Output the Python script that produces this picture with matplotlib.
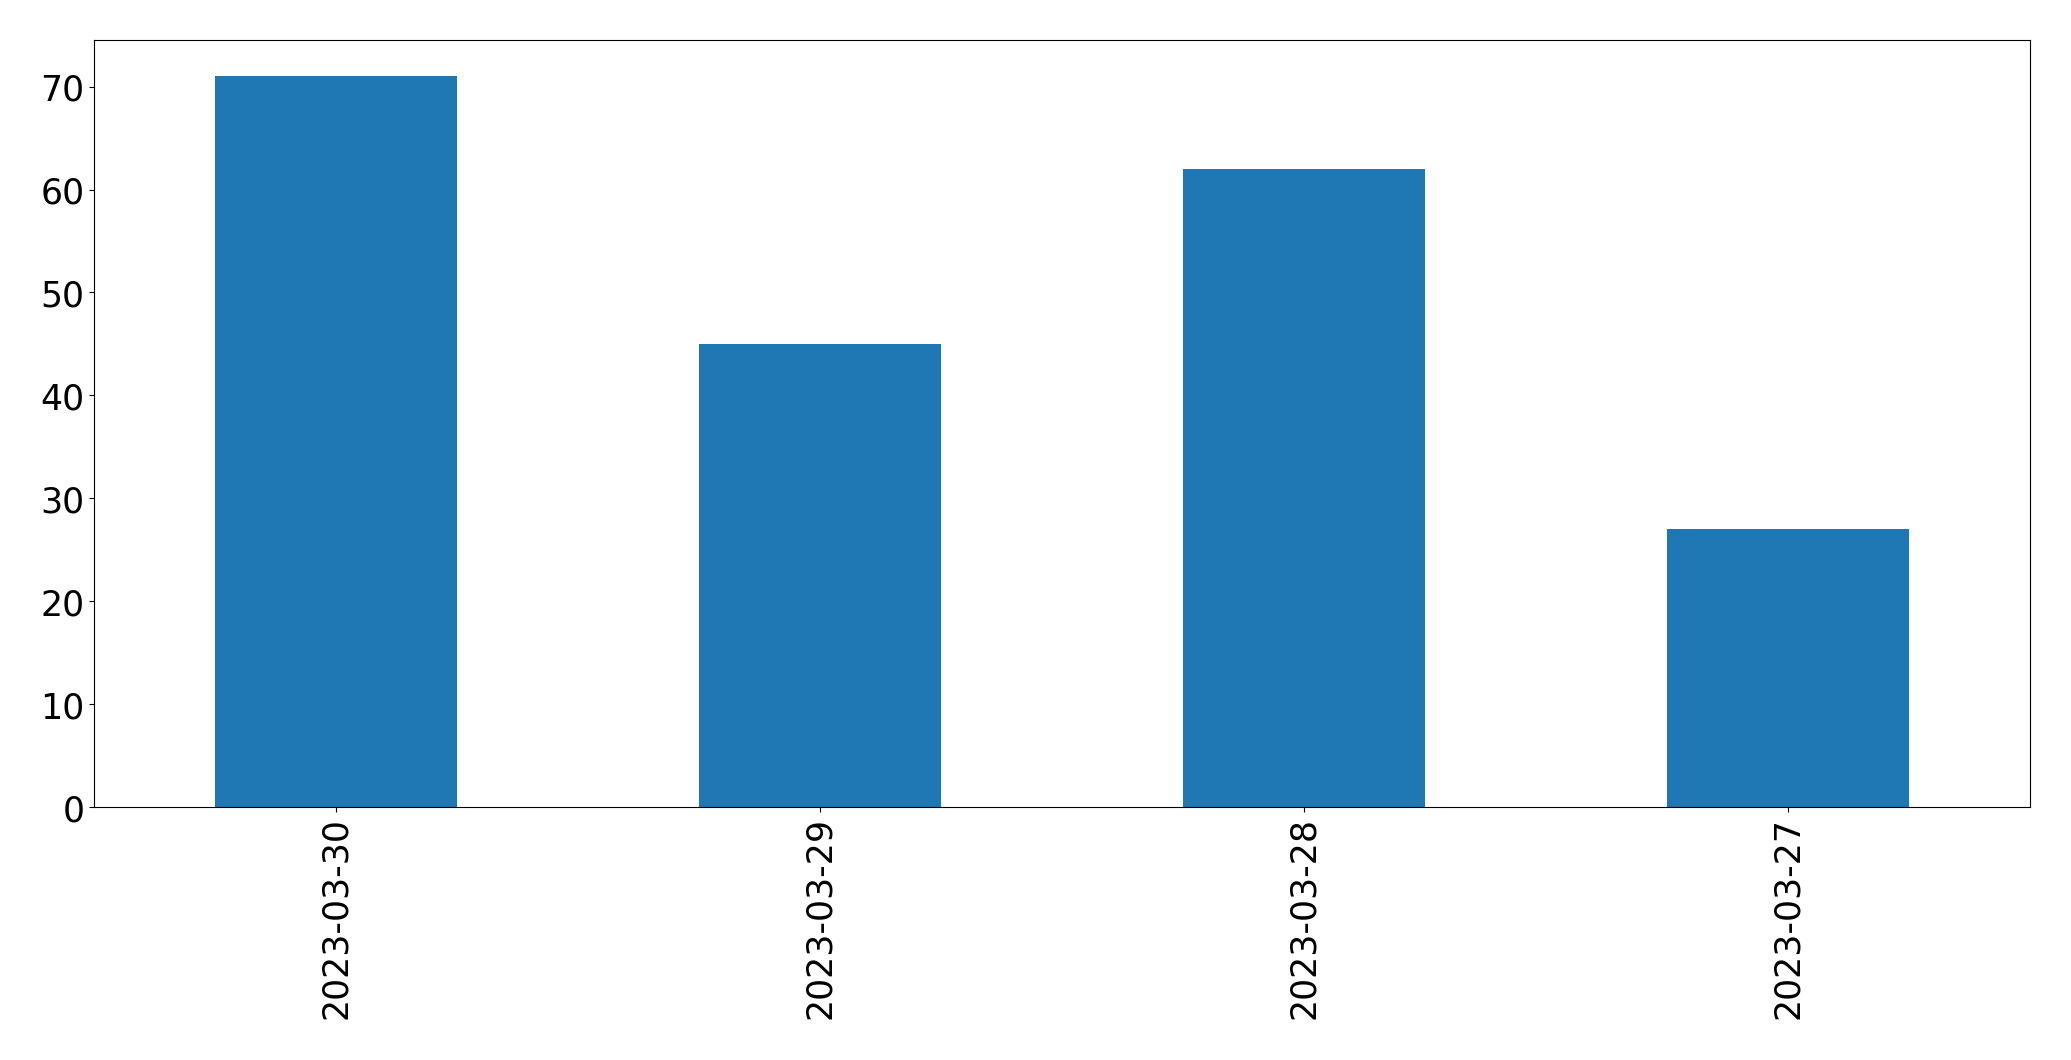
import matplotlib
matplotlib.use("Agg")
import matplotlib.pyplot as plt
import pandas as pd

# conteo por fecha
fechas = ["2023-03-30", "2023-03-29", "2023-03-28", "2023-03-27"]
conteos = [71, 45, 62, 27]

s = pd.Series(conteos, index=fechas)

fig = plt.figure(figsize=(20.71, 10.605), dpi=100)
ax = fig.add_subplot(111)
s.plot(kind="bar", ax=ax, color="#1f77b4")
ax.tick_params(axis="both", labelsize=25)
fig.subplots_adjust(left=0.0454, right=0.980, top=0.962, bottom=0.2385)
fig.savefig("out.png", dpi=100)
